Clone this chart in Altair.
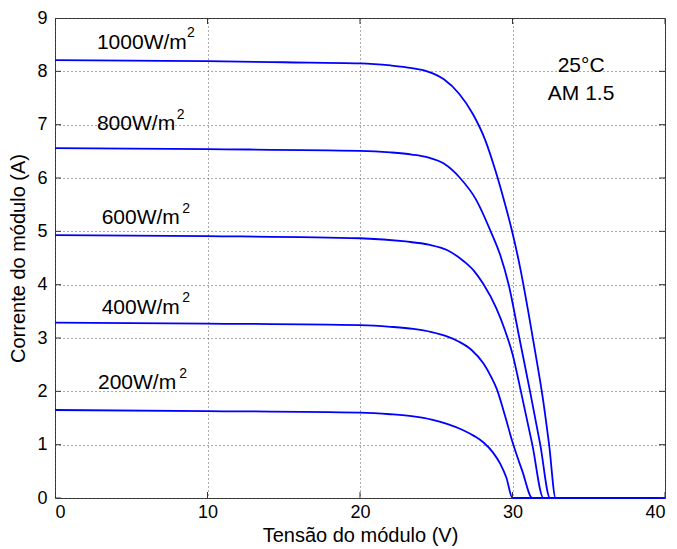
import altair as alt
import pandas as pd

# ---- data ----
v1000 = [0, 5, 10, 15, 20, 22, 23.4, 24.4, 25.5, 26.5, 27.4, 28.2, 28.9, 29.5, 30.0, 30.5, 31.0, 31.5, 32.0, 32.4, 32.83, 40]
i1000 = [8.21, 8.20, 8.19, 8.17, 8.15, 8.11, 8.06, 8.00, 7.85, 7.58, 7.20, 6.72, 6.12, 5.52, 4.97, 4.32, 3.55, 2.72, 1.85, 1.00, 0, 0]

v800 = [0, 10, 20, 22, 23.4, 24.4, 25.5, 26.56, 27.6, 28.57, 29.2, 29.75, 30.45, 31.15, 31.82, 32.46, 40]
i800 = [6.56, 6.54, 6.51, 6.48, 6.44, 6.39, 6.27, 6.00, 5.60, 5.00, 4.55, 4.00, 3.00, 2.00, 1.00, 0, 0]

v600 = [0, 10, 20, 23, 24.5, 25.7, 26.8, 27.5, 28.07, 28.95, 29.5, 30.0, 30.55, 31.3, 32.03, 40]
i600 = [4.93, 4.91, 4.87, 4.81, 4.75, 4.65, 4.44, 4.25, 4.02, 3.55, 3.15, 2.70, 2.00, 1.00, 0, 0]

v400 = [0, 10, 20, 22, 23.5, 24.7, 25.7, 26.5, 27.3, 28.1, 28.6, 28.96, 29.5, 30.0, 30.65, 31.3, 40]
i400 = [3.29, 3.27, 3.24, 3.21, 3.17, 3.11, 3.03, 2.93, 2.78, 2.52, 2.27, 2.05, 1.55, 1.05, 0.50, 0, 0]

v200 = [0, 10, 20, 22, 23.5, 24.7, 25.7, 26.7, 27.5, 28.1, 28.7, 29.2, 29.6, 30.0, 40]
i200 = [1.65, 1.63, 1.60, 1.57, 1.53, 1.47, 1.39, 1.28, 1.16, 1.04, 0.86, 0.64, 0.38, 0, 0]

series_names = ["1000", "800", "600", "400", "200"]
series_v = [v1000, v800, v600, v400, v200]
series_i = [i1000, i800, i600, i400, i200]

x_ticks = [0, 10, 20, 30, 40]
y_ticks = [0, 1, 2, 3, 4, 5, 6, 7, 8, 9]

# annotation anchors (data units)
label_text = ["1000W/m", "800W/m", "600W/m", "400W/m", "200W/m"]
label_v = [2.75, 2.75, 3.06, 3.06, 2.82]
label_i = [8.53, 7.01, 5.25, 3.57, 2.16]
sup_v = [8.66, 7.98, 8.35, 8.35, 8.15]
sup_i = [8.72, 7.19, 5.42, 3.75, 2.33]

cond_text = ["25°C", "AM 1.5"]
cond_v = [34.5, 34.5]
cond_i = [8.10, 7.58]

# ---- tables ----
rows = []
for name, vs, is_ in zip(series_names, series_v, series_i):
    for k, (v, i) in enumerate(zip(vs, is_)):
        rows.append({"serie": name, "V": v, "I": i, "k": k})
df = pd.DataFrame(rows)

labels_df = pd.DataFrame({"V": label_v, "I": label_i, "t": label_text})
sup_df = pd.DataFrame({"V": sup_v, "I": sup_i, "t": ["2"] * len(sup_v)})
cond_df = pd.DataFrame({"V": cond_v, "I": cond_i, "t": cond_text})
xt_df = pd.DataFrame({"V": x_ticks})
yt_df = pd.DataFrame({"I": y_ticks})

FONT = "Liberation Sans"
xs = alt.Scale(domain=[0, 40], nice=False, zero=False)
ys = alt.Scale(domain=[0, 9], nice=False, zero=False)

grid_common = dict(grid=True, gridDash=[1, 3], gridColor="#555555", gridOpacity=1, gridWidth=1)

x_main = alt.X("V:Q", scale=xs, axis=alt.Axis(
    orient="bottom", values=x_ticks, title="Tensão do módulo (V)", domain=False, ticks=False,
    labelFont=FONT, labelFontSize=18, labelColor="#000", labelPadding=5,
    titleFont=FONT, titleFontSize=20, titleFontWeight="normal", titleColor="#000", titlePadding=4,
    **grid_common))
y_main = alt.Y("I:Q", scale=ys, axis=alt.Axis(
    orient="left", values=y_ticks, title="Corrente do módulo (A)", domain=False, ticks=False,
    labelFont=FONT, labelFontSize=18, labelColor="#000", labelPadding=8,
    titleFont=FONT, titleFontSize=20, titleFontWeight="normal", titleColor="#000", titlePadding=8,
    **grid_common))

lines = alt.Chart(df).mark_line(color="#0000FF", strokeWidth=1.8, interpolate="monotone").encode(
    x=x_main, y=y_main, detail="serie:N", order="k:Q")

TICK = dict(color="#333333", size=12, thickness=1, clip=True, opacity=1)
xt_bottom = alt.Chart(xt_df).mark_tick(**TICK).encode(
    x=alt.X("V:Q", scale=xs), y=alt.value(480))
xt_top = alt.Chart(xt_df).mark_tick(**TICK).encode(
    x=alt.X("V:Q", scale=xs), y=alt.value(0))
yt_left = alt.Chart(yt_df).mark_tick(**TICK).encode(
    y=alt.Y("I:Q", scale=ys), x=alt.value(0))
yt_right = alt.Chart(yt_df).mark_tick(**TICK).encode(
    y=alt.Y("I:Q", scale=ys), x=alt.value(610))

labels = alt.Chart(labels_df).mark_text(font=FONT, fontSize=21, align="left", baseline="middle", color="#000").encode(
    x=alt.X("V:Q", scale=xs), y=alt.Y("I:Q", scale=ys), text="t:N")
sups = alt.Chart(sup_df).mark_text(font=FONT, fontSize=14, align="left", baseline="middle", color="#000").encode(
    x=alt.X("V:Q", scale=xs), y=alt.Y("I:Q", scale=ys), text="t:N")
conds = alt.Chart(cond_df).mark_text(font=FONT, fontSize=21, align="center", baseline="middle", color="#000").encode(
    x=alt.X("V:Q", scale=xs), y=alt.Y("I:Q", scale=ys), text="t:N")

chart = alt.layer(lines, xt_bottom, xt_top, yt_left, yt_right, labels, sups, conds).properties(
    width=610, height=480,
    autosize=alt.AutoSizeParams(type="none"),
    padding={"left": 55, "top": 18, "right": 12, "bottom": 51},
    background="white",
).configure_view(stroke="#333333", strokeWidth=1)

chart.save("out.html", embed_options={"renderer": "svg", "actions": False})
